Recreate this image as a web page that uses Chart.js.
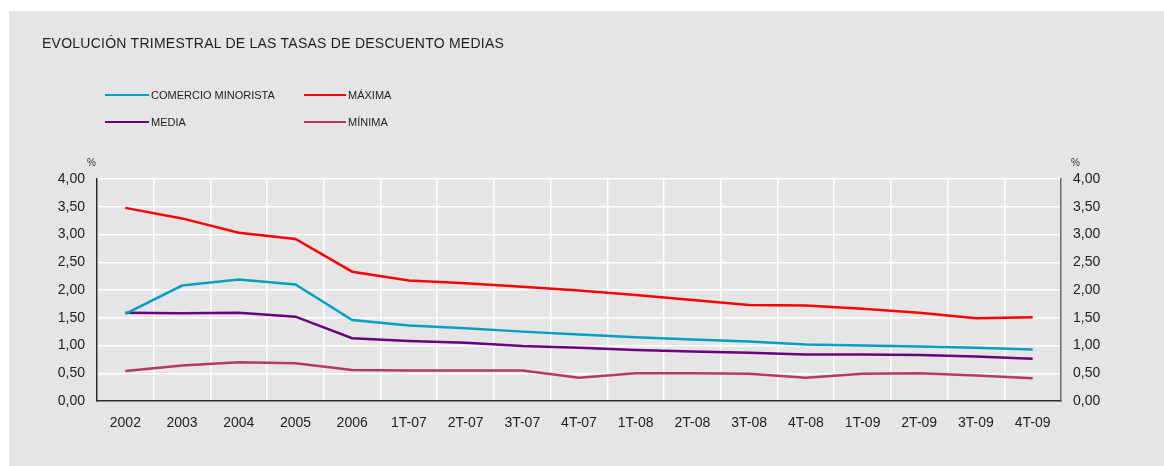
<!DOCTYPE html>
<html>
<head>
<meta charset="utf-8">
<script src="https://cdn.jsdelivr.net/npm/chart.js@4/dist/chart.umd.min.js"></script>
<style>
  html, body { margin: 0; padding: 0; background: #ffffff; }
  body { width: 1164px; height: 466px; position: relative; overflow: hidden; font-family: "Liberation Sans", Arial, sans-serif; color: #1e1e1e; }
  #panel { position: absolute; left: 9px; top: 11px; width: 1155px; height: 455px; background: #e5e5e5; }
  #wrap { position: absolute; left: 0; top: 0; width: 1164px; height: 466px; }
  .txt { position: absolute; white-space: nowrap; }
  #title { left: 42px; top: 35px; font-size: 14px; letter-spacing: 0.25px; }
  .leg { position: absolute; font-size: 11px; line-height: 12px; white-space: nowrap; width: 200px; height: 12px; }
  .leg .ln { position: absolute; top: 5px; height: 2px; }
  .leg .lb { position: absolute; top: 0; white-space: nowrap; }
  .pct { position: absolute; top: 157px; font-size: 10px; color: #333; }
</style>
</head>
<body>
<div id="panel"></div>
<div id="wrap"><canvas id="c" width="1164" height="466"></canvas></div>
<div id="title" class="txt">EVOLUCIÓN TRIMESTRAL DE LAS TASAS DE DESCUENTO MEDIAS</div>
<div id="legend"></div>
<div class="pct" style="left:87px;">%</div>
<div class="pct" style="left:1071px;">%</div>
<script>
const categories = ['2002','2003','2004','2005','2006','1T-07','2T-07','3T-07','4T-07','1T-08','2T-08','3T-08','4T-08','1T-09','2T-09','3T-09','4T-09'];
const comercioMinorista = [1.57,2.08,2.19,2.10,1.46,1.36,1.31,1.25,1.20,1.15,1.11,1.07,1.02,1.00,0.98,0.96,0.93];
const maxima = [3.48,3.29,3.03,2.92,2.33,2.17,2.12,2.06,1.99,1.91,1.82,1.73,1.72,1.66,1.59,1.49,1.51];
const media = [1.59,1.58,1.59,1.52,1.13,1.08,1.05,0.99,0.96,0.92,0.89,0.87,0.84,0.84,0.83,0.80,0.76];
const minima = [0.54,0.64,0.70,0.68,0.56,0.55,0.55,0.55,0.42,0.50,0.50,0.49,0.42,0.49,0.50,0.46,0.41];
const seriesNames = ['COMERCIO MINORISTA','MÁXIMA','MEDIA','MÍNIMA'];
const seriesColors = ['#00a0c6','#ff0000','#6a0080','#b8395f'];
const yTicks = [0,0.5,1,1.5,2,2.5,3,3.5,4];

// legend (2x2 grid)
const legendPos = [[105,89],[304,89],[105,116],[304,116]];
const legendLineW = [44,42,44,42];
const legendEl = document.getElementById('legend');
seriesNames.forEach((n,i)=>{
  const d = document.createElement('div');
  d.className = 'leg';
  d.style.left = legendPos[i][0] + 'px';
  d.style.top = legendPos[i][1] + 'px';
  d.innerHTML = '<div class="ln" style="left:0;width:'+legendLineW[i]+'px;background:'+seriesColors[i]+'"></div>' +
                '<div class="lb" style="left:'+(legendLineW[i]+2)+'px">'+n+'</div>';
  legendEl.appendChild(d);
});

const values = [comercioMinorista, maxima, media, minima];
const fmt = v => v.toFixed(2).replace('.', ',');
const FONT = { family: '"Liberation Sans", Arial, sans-serif', size: 14 };

new Chart(document.getElementById('c'), {
  type: 'line',
  data: {
    labels: categories,
    datasets: values.map((v,i)=>({
      label: seriesNames[i],
      data: v,
      borderColor: seriesColors[i],
      backgroundColor: seriesColors[i],
      borderWidth: 2.5,
      pointRadius: 0,
      tension: 0,
      yAxisID: 'y'
    }))
  },
  options: {
    responsive: false,
    animation: false,
    devicePixelRatio: 1,
    layout: { padding: { left: 37, right: 43, top: 179, bottom: 25 } },
    plugins: { legend: { display: false }, tooltip: { enabled: false } },
    scales: {
      x: {
        offset: true,
        grid: { offset: true, color: '#ffffff', lineWidth: 1.5, drawTicks: false },
        border: { color: '#2a2a2a', width: 1.5 },
        ticks: { color: '#222', font: FONT, padding: 14, maxRotation: 0, autoSkip: false },
        afterFit: s => { s.height = 40; }
      },
      y: {
        position: 'left',
        min: 0, max: 4,
        afterBuildTicks: s => { s.ticks = yTicks.map(v => ({ value: v })); },
        grid: { color: '#ffffff', lineWidth: 1.5, drawTicks: false },
        border: { color: '#2a2a2a', width: 1.5 },
        ticks: { color: '#222', font: FONT, padding: 12, callback: v => fmt(v) },
        afterFit: s => { s.width = 60; }
      },
      y2: {
        position: 'right',
        min: 0, max: 4,
        afterBuildTicks: s => { s.ticks = yTicks.map(v => ({ value: v })); },
        grid: { drawOnChartArea: false, drawTicks: false },
        border: { color: '#666666', width: 1.5 },
        ticks: { color: '#222', font: FONT, padding: 12, callback: v => fmt(v) },
        afterFit: s => { s.width = 60; }
      }
    }
  }
});
</script>
</body>
</html>
